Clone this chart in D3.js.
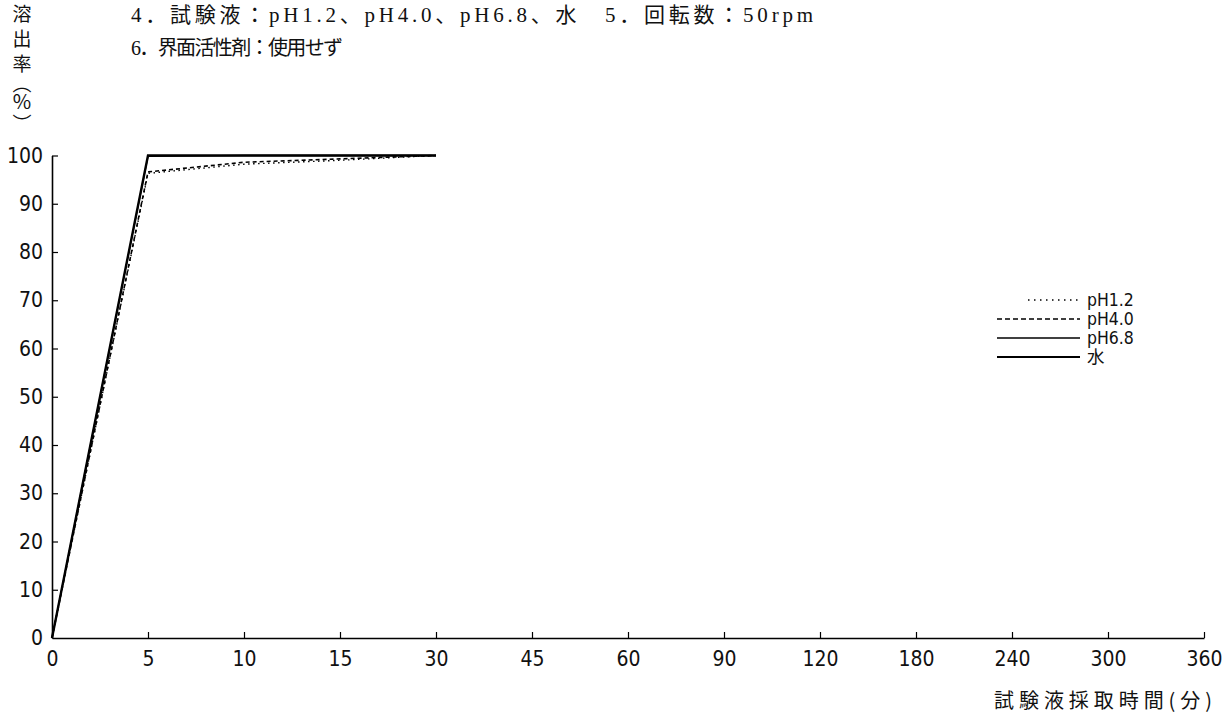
<!DOCTYPE html>
<html><head><meta charset="utf-8">
<script src="https://cdn.jsdelivr.net/npm/d3@7/dist/d3.min.js"></script>
<style>
body{margin:0;background:#fff;}
svg{display:block;}
.tick text{font-family:"DejaVu Sans Condensed","DejaVu Sans",sans-serif;font-stretch:condensed;}
</style></head>
<body>
<svg id="chart" width="1232" height="718"></svg>
<script>
// categories on the x axis (minutes)
const xLabels = ["0","5","10","15","30","45","60","90","120","180","240","300","360"];
// sampling times with data
const sampleTimes = ["0","5","10","15","30"];
// series values (% dissolved)
const pH12 = [0, 96.3, 98.2, 99.0, 100];
const pH40 = [0, 96.6, 98.6, 99.3, 100];
const pH68 = [0, 99.8, 100, 100, 100];
const water = [0, 100, 100, 100, 100];
const yTicks = [0,10,20,30,40,50,60,70,80,90,100];
const seriesNames = ["pH1.2","pH4.0","pH6.8","水"];
const headerLines = ["4．試験液：pH1.2、pH4.0、pH6.8、水　5．回転数：50rpm","6．界面活性剤：使用せず"];
const yTitleChars = ["溶","出","率","︵","%","︶"];
const xTitle = "試験液採取時間(分)";

const svg = d3.select("#chart");
const x = d3.scalePoint().domain(xLabels).range([52,1204]);
const y = d3.scaleLinear().domain([0,100]).range([638,155.5]);

// axes
const yAxis = d3.axisLeft(y).tickValues(yTicks).tickSizeInner(-6).tickSizeOuter(0).tickPadding(9);
const gy = svg.append("g").attr("transform","translate(52,0)").call(yAxis);
const xAxis = d3.axisBottom(x).tickSizeInner(-6).tickSizeOuter(0).tickPadding(13);
const gx = svg.append("g").attr("transform","translate(0,638)").call(xAxis);
[gx,gy].forEach(g=>{
  g.selectAll(".domain").attr("stroke","#000").attr("stroke-width",1.6);
  g.selectAll(".tick line").attr("stroke","#000").attr("stroke-width",1.2);
  g.selectAll(".tick text").attr("fill","#111").attr("font-size",21);
});
gx.selectAll(".tick").filter(d=>d==="0").select("line").remove();
gy.selectAll(".tick").filter(d=>d===0).select("line").remove();

// series
const styles = [
  {data:pH12, dash:"1.5,3.5", w:1.4, legDash:"1.5,4.5"},
  {data:pH40, dash:"4,3", w:1.6, legDash:"5,3"},
  {data:pH68, dash:null, w:1.3, legDash:null},
  {data:water, dash:null, w:2.4, legDash:null}
];
const line = d3.line().x((d,i)=>x(sampleTimes[i])).y(d=>y(d));
styles.forEach(s=>{
  svg.append("path").datum(s.data).attr("d",line)
    .attr("fill","none").attr("stroke","#000").attr("stroke-width",s.w)
    .attr("stroke-dasharray",s.dash);
});

// legend
const legY = [300,319,338,357];
styles.forEach((s,i)=>{
  svg.append("line").attr("x1",i===0?1028:997).attr("x2",1080).attr("y1",legY[i]).attr("y2",legY[i])
    .attr("stroke","#000").attr("stroke-width",s.w===2.4?2:s.w)
    .attr("stroke-dasharray",s.legDash);
  svg.append("text").attr("x",1087).attr("y",legY[i]+6)
    .attr("font-family",'"DejaVu Sans Condensed","DejaVu Sans","Noto Sans CJK JP",sans-serif')
    .style("font-stretch","condensed")
    .attr("font-size",17.5).attr("fill","#111").text(seriesNames[i]);
});

// header text
svg.append("text").attr("x",131).attr("y",22)
  .attr("font-family",'"Liberation Serif","Noto Sans CJK JP",serif')
  .attr("font-size",21).attr("fill","#111")
  .attr("textLength",682).attr("lengthAdjust","spacing").text(headerLines[0]);
svg.append("text").attr("x",131).attr("y",55)
  .attr("font-family",'"Liberation Serif","Noto Sans CJK JP",serif')
  .attr("font-size",20).attr("fill","#111")
  .attr("textLength",212).attr("lengthAdjust","spacing").text(headerLines[1]);

// y title (vertical)
const ty = [21,46,71,91,109,131];
yTitleChars.forEach((c,i)=>{
  svg.append("text").attr("x",22).attr("y",ty[i])
    .attr("text-anchor","middle")
    .attr("font-family",'"Noto Sans CJK JP",sans-serif')
    .attr("font-size",c==="%"?20:19).attr("fill","#111").text(c);
});

// x title
svg.append("text").attr("x",1212).attr("y",708).attr("text-anchor","end")
  .attr("font-family",'"Noto Sans CJK JP",sans-serif')
  .attr("font-size",20).attr("fill","#111")
  .attr("textLength",218).attr("lengthAdjust","spacing").text(xTitle);
</script>
</body></html>
